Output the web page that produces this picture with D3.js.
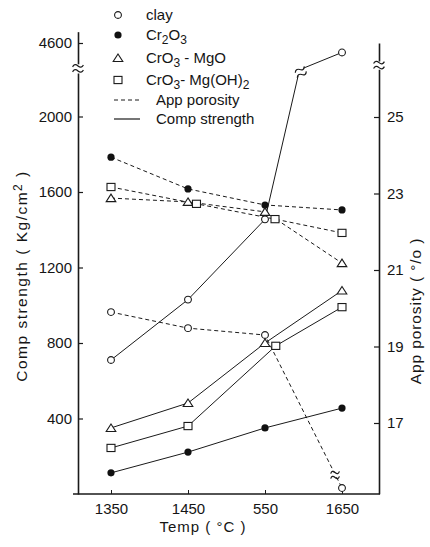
<!DOCTYPE html>
<html><head><meta charset="utf-8">
<script src="https://cdn.jsdelivr.net/npm/d3@7"></script>
<style>
body{margin:0;background:#fff}
text{font-family:"Liberation Sans",Arial,sans-serif;fill:#151515}
</style>
</head><body>
<svg id="c" width="430" height="547"></svg>
<script>
// ---- data ----
const temps=[1350,1450,1550,1650];
const tempLabels=["1350","1450","550","1650"];
const sqStrengthTemps=[1350,1450,1564,1650];
const sqPorosityTemps=[1350,1461,1563,1650];
const strengthClay=[710,1030,1455,4550];
const strengthCr2O3=[112,222,350,455];
const strengthCrO3MgO=[350,482,800,1078];
const strengthCrO3MgOH2=[244,360,785,990];
const porosityClay=[19.9,19.48,19.3,15.3];
const porosityCr2O3=[23.95,23.12,22.7,22.57];
const porosityCrO3MgO=[22.88,22.78,22.52,21.18];
const porosityCrO3MgOH2=[23.17,22.73,22.33,21.97];
const clayStrengthBreakLow={t:1593,v:2215};
const clayStrengthBreakHigh={t:1600,v:4467};
const clayPorosityBreak={t:1641,v:15.64};
const leftTicks=[400,800,1200,1600,2000];
const leftUpperTicks=[4600];
const rightTicks=[17,19,21,23,25];

// ---- scales ----
const svg=d3.select("#c");
const x=d3.scaleLinear().domain([1350,1650]).range([111,342]);
const yL=d3.scaleLinear().domain([0,2000]).range([494,116.5]);
const yU=d3.scaleLinear().domain([4500,4700]).range([61.9,24.1]);
const yR=d3.scaleLinear().domain([17,25]).range([423,117]);
const axX0=78, axX1=379, axY=494;

const g=svg.append("g");
const lineStroke="#1a1a1a";
const fmt=d3.format("d");

// ---- axes ----
g.append("line").attr("x1",73).attr("x2",axX1+1).attr("y1",axY).attr("y2",axY)
 .attr("stroke",lineStroke).attr("stroke-width",1.6);
const bx=d3.axisBottom(x).tickValues(temps).tickFormat((d,i)=>tempLabels[i])
 .tickSizeInner(-4).tickSizeOuter(0).tickPadding(9);
const bxg=g.append("g").attr("transform",`translate(0,${axY})`).call(bx);
bxg.select(".domain").remove();
bxg.selectAll("line").attr("stroke",lineStroke);
bxg.selectAll("text").attr("font-size",15).attr("font-family","Liberation Sans, Arial, sans-serif").attr("fill","#151515");

const lyLow=d3.scaleLinear().domain([0,2230]).range([yL(0),yL(2230)]);
const la=d3.axisLeft(lyLow).tickValues(leftTicks).tickFormat(fmt).tickSizeInner(-5).tickSizeOuter(0).tickPadding(6);
const lag=g.append("g").attr("transform",`translate(${axX0},0)`).call(la);
const lyUp=d3.scaleLinear().domain([4490,4660]).range([yU(4490),yU(4660)]);
const lu=d3.axisLeft(lyUp).tickValues(leftUpperTicks).tickFormat(fmt).tickSizeInner(-5).tickSizeOuter(0).tickPadding(6);
const lug=g.append("g").attr("transform",`translate(${axX0},0)`).call(lu);
const ryLow=d3.scaleLinear().domain([15.15,26.25]).range([yR(15.15),yR(26.25)]);
const ra=d3.axisRight(ryLow).tickValues(rightTicks).tickFormat(fmt).tickSizeInner(-5).tickSizeOuter(0).tickPadding(8);
const rag=g.append("g").attr("transform",`translate(${axX1},0)`).call(ra);
const ryUp=d3.scaleLinear().domain([0,1]).range([61,43]);
const rug=g.append("g").attr("transform",`translate(${axX1},0)`).call(d3.axisRight(ryUp).tickValues([]).tickSizeOuter(0));
[lag,lug,rag,rug].forEach(a=>{
  a.selectAll("path.domain").attr("stroke",lineStroke).attr("stroke-width",1.6);
  a.selectAll("line").attr("stroke",lineStroke).attr("stroke-width",1.2);
  a.selectAll("text").attr("font-size",15).attr("font-family","Liberation Sans, Arial, sans-serif").attr("fill","#151515");
});

function tilde(cx,cy,w,rot){
  return g.append("path")
   .attr("d",`M${-w/2},0 q${w/4},-3.5 ${w/2},0 t${w/2},0`)
   .attr("transform",`translate(${cx},${cy}) rotate(${rot||0})`)
   .attr("fill","none").attr("stroke",lineStroke).attr("stroke-width",1.2);
}
const lBreak=(lyLow(2230)+lyUp(4490))/2;
g.append("rect").attr("x",axX0-3).attr("y",lBreak-2).attr("width",6).attr("height",4).attr("fill","#fff");
tilde(axX0,lBreak-2.5,11,-10); tilde(axX0,lBreak+2.5,11,-10);
const rBreak=(ryLow(26.25)+ryUp(0))/2;
g.append("rect").attr("x",axX1-3).attr("y",rBreak-2).attr("width",6).attr("height",4).attr("fill","#fff");
tilde(axX1,rBreak-2.5,11,-10); tilde(axX1,rBreak+2.5,11,-10);

// ---- data lines ----
const ln=d3.line().x(d=>x(d[0])).y(d=>d[1]);
function pts(ts,vals,sc){return ts.map((t,i)=>[t,sc(vals[i])]);}
function drawLine(p,dashed){
  g.append("path").attr("d",ln(p)).attr("fill","none").attr("stroke",lineStroke)
   .attr("stroke-width",1).attr("stroke-dasharray",dashed?"4,3":null);
}
drawLine(pts(temps.slice(0,3),strengthClay.slice(0,3),yL).concat([[clayStrengthBreakLow.t,yL(clayStrengthBreakLow.v)]]),false);
drawLine([[clayStrengthBreakHigh.t,yU(clayStrengthBreakHigh.v)],[temps[3],yU(strengthClay[3])]],false);
const bxp=x((clayStrengthBreakLow.t+clayStrengthBreakHigh.t)/2), byp=(yL(clayStrengthBreakLow.v)+yU(clayStrengthBreakHigh.v))/2;
tilde(bxp-1,byp-2.5,11,-35); tilde(bxp+1,byp+2.5,11,-35);
drawLine(pts(temps,strengthCr2O3,yL),false);
drawLine(pts(temps,strengthCrO3MgO,yL),false);
drawLine(pts(sqStrengthTemps,strengthCrO3MgOH2,yL),false);
drawLine(pts(temps,porosityClay,yR),true);
drawLine(pts(temps,porosityCr2O3,yR),true);
drawLine(pts(temps,porosityCrO3MgO,yR),true);
drawLine(pts(sqPorosityTemps,porosityCrO3MgOH2,yR),true);
const cpx=x(clayPorosityBreak.t), cpy=yR(clayPorosityBreak.v);
g.append("rect").attr("x",cpx-4).attr("y",cpy-2).attr("width",8).attr("height",4).attr("fill","#fff");
tilde(cpx,cpy-2.5,9,-15); tilde(cpx,cpy+2.5,9,-15);

// ---- markers ----
function marker(kind,cx,cy){
  const s=g.append("g").attr("transform",`translate(${cx},${cy})`);
  if(kind==="clay") s.append("circle").attr("r",3.4).attr("fill","#fff").attr("stroke",lineStroke).attr("stroke-width",1.1);
  if(kind==="cr2o3") s.append("circle").attr("r",3.6).attr("fill","#111");
  if(kind==="mgo") s.append("path").attr("d","M0,-4 L4.8,3.5 L-4.8,3.5 Z").attr("fill","#fff").attr("stroke",lineStroke).attr("stroke-width",1.1);
  if(kind==="mgoh") s.append("rect").attr("x",-4).attr("y",-3.6).attr("width",8).attr("height",7.2).attr("fill","#fff").attr("stroke",lineStroke).attr("stroke-width",1.1);
}
temps.forEach((t,i)=>{
  marker("clay",x(t),i<3?yL(strengthClay[i]):yU(strengthClay[i]));
  marker("cr2o3",x(t),yL(strengthCr2O3[i]));
  marker("mgo",x(t),yL(strengthCrO3MgO[i]));
  marker("mgoh",x(sqStrengthTemps[i]),yL(strengthCrO3MgOH2[i]));
  marker("clay",x(t),yR(porosityClay[i]));
  marker("cr2o3",x(t),yR(porosityCr2O3[i]));
  marker("mgo",x(t),yR(porosityCrO3MgO[i]));
  marker("mgoh",x(sqPorosityTemps[i]),yR(porosityCrO3MgOH2[i]));
});

// ---- legend ----
const legendRows=[
  {kind:"clay",y:15,parts:[["clay"]]},
  {kind:"cr2o3",y:35,parts:[["Cr"],["2",1],["O"],["3",1]]},
  {kind:"mgo",y:58,parts:[["CrO"],["3",1],[" - MgO"]]},
  {kind:"mgoh",y:80,parts:[["CrO"],["3",1],["- Mg(OH)"],["2",1]]},
];
legendRows.forEach(r=>{
  marker(r.kind,118,r.y);
  const t=g.append("text").attr("x",146).attr("y",r.y+5).attr("font-size",15);
  let sub=false;
  r.parts.forEach(p=>{
    const ts=t.append("tspan").text(p[0]);
    if(p[1]&&!sub){ts.attr("dy",4).attr("font-size",12);sub=true;}
    else if(p[1]&&sub){ts.attr("font-size",12);}
    else if(!p[1]&&sub){ts.attr("dy",-4);sub=false;}
  });
});
g.append("line").attr("x1",114).attr("x2",140).attr("y1",100).attr("y2",100)
 .attr("stroke",lineStroke).attr("stroke-dasharray","4,3");
g.append("text").attr("x",156).attr("y",105).attr("font-size",15).text("App porosity");
g.append("line").attr("x1",114).attr("x2",140).attr("y1",119).attr("y2",119)
 .attr("stroke",lineStroke).attr("stroke-width",1.2);
g.append("text").attr("x",156).attr("y",124).attr("font-size",15).text("Comp strength");

// ---- axis titles ----
const lt=g.append("text").attr("transform","translate(27,276) rotate(-90)").attr("text-anchor","middle")
 .attr("font-size",15.5).attr("letter-spacing",1.5);
lt.append("tspan").text("Comp strength  (  Kg/cm");
lt.append("tspan").attr("dy",-5).attr("font-size",12).text("2");
lt.append("tspan").attr("dy",5).text("  )");
g.append("text").attr("transform","translate(421,311) rotate(-90)").attr("text-anchor","middle")
 .attr("font-size",15.5).attr("letter-spacing",0.9).text("App porosity  ( °/o )");
g.append("text").attr("x",203).attr("y",532).attr("text-anchor","middle").attr("font-size",15)
 .attr("letter-spacing",1).text("Temp  ( °C )");
</script>
</body></html>
